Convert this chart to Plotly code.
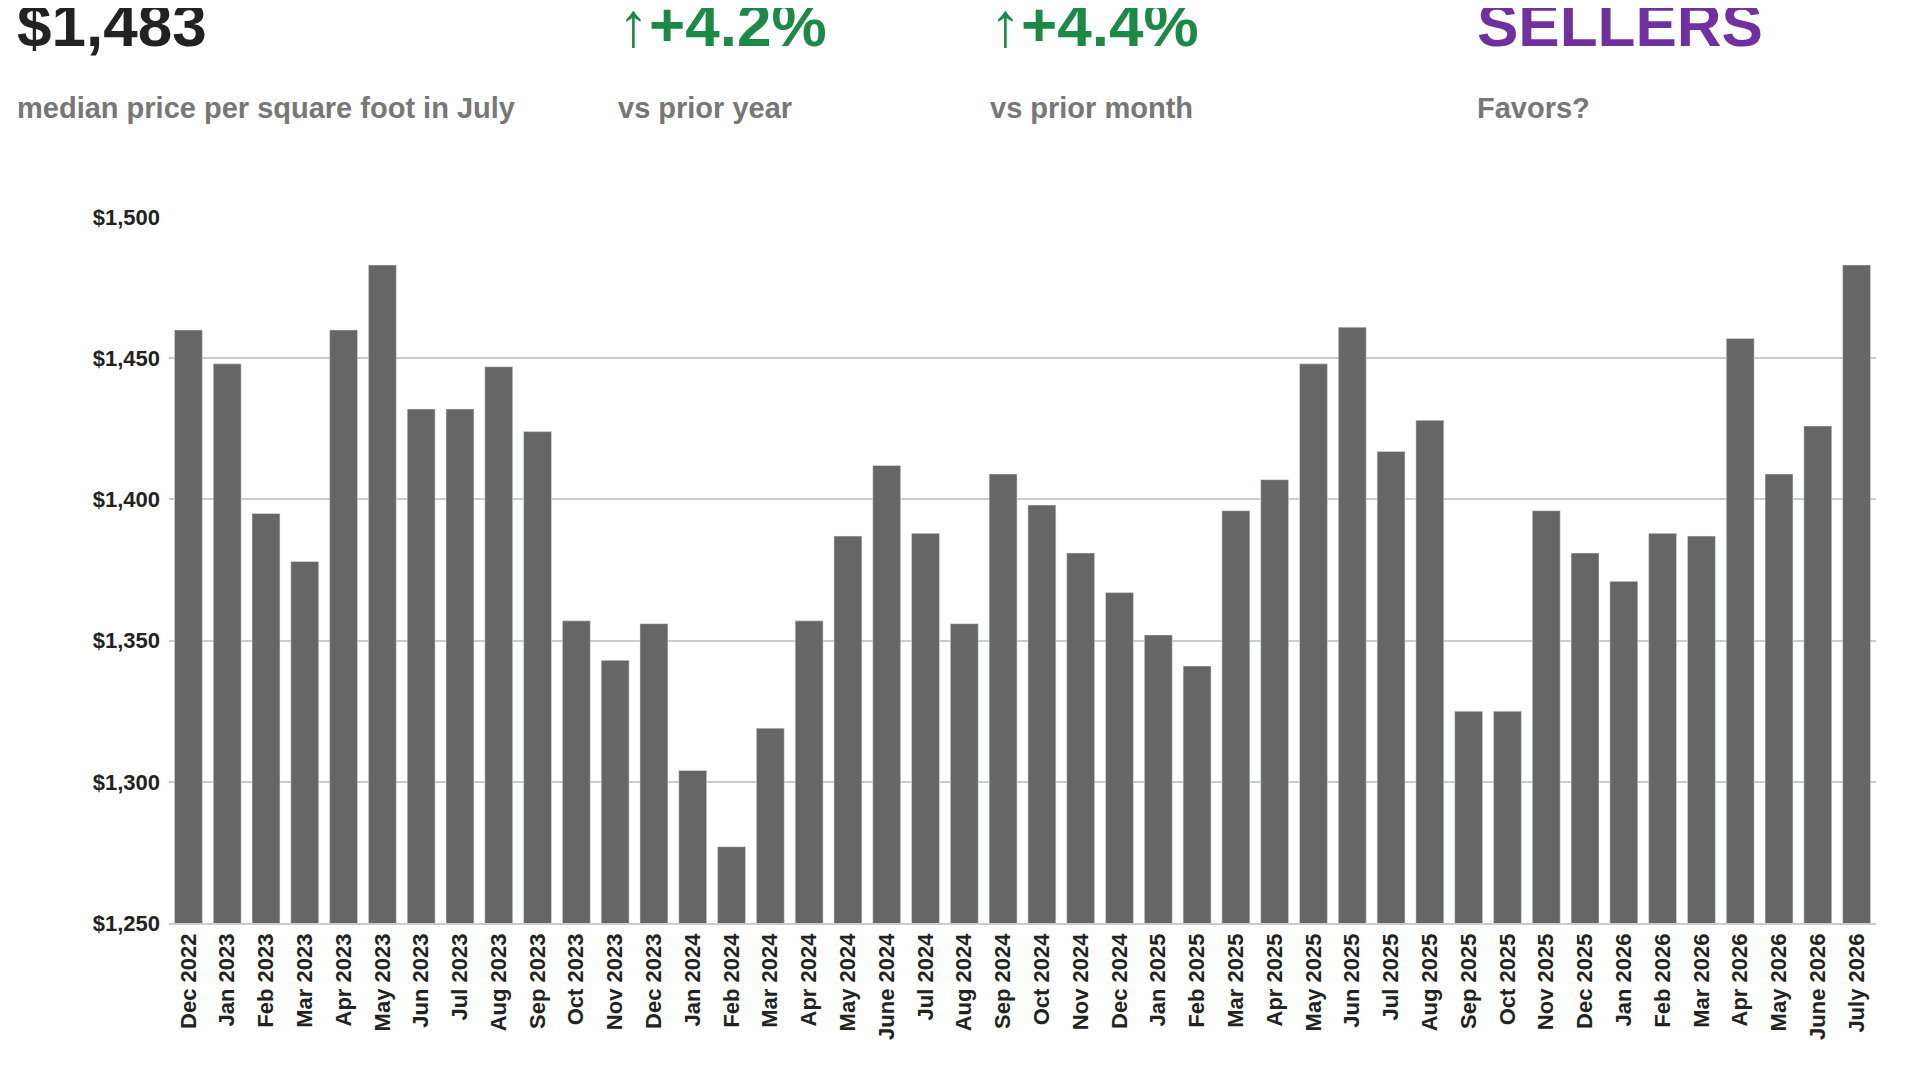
import plotly.graph_objects as go

months = ["Dec 2022", "Jan 2023", "Feb 2023", "Mar 2023", "Apr 2023", "May 2023", "Jun 2023",
          "Jul 2023", "Aug 2023", "Sep 2023", "Oct 2023", "Nov 2023", "Dec 2023", "Jan 2024",
          "Feb 2024", "Mar 2024", "Apr 2024", "May 2024", "June 2024", "Jul 2024", "Aug 2024",
          "Sep 2024", "Oct 2024", "Nov 2024", "Dec 2024", "Jan 2025", "Feb 2025", "Mar 2025",
          "Apr 2025", "May 2025", "Jun 2025", "Jul 2025", "Aug 2025", "Sep 2025", "Oct 2025",
          "Nov 2025", "Dec 2025", "Jan 2026", "Feb 2026", "Mar 2026", "Apr 2026", "May 2026",
          "June 2026", "July 2026"]
price = [1460, 1448, 1395, 1378, 1460, 1483, 1432, 1432, 1447, 1424, 1357, 1343, 1356, 1304,
         1277, 1319, 1357, 1387, 1412, 1388, 1356, 1409, 1398, 1381, 1367, 1352, 1341, 1396,
         1407, 1448, 1461, 1417, 1428, 1325, 1325, 1396, 1381, 1371, 1388, 1387, 1457, 1409,
         1426, 1483]
tick_vals = [1250, 1300, 1350, 1400, 1450, 1500]
tick_text = ["$1,250", "$1,300", "$1,350", "$1,400", "$1,450", "$1,500"]

FONT = "Liberation Sans"
GREEN = "#1a8a45"

fig = go.Figure(go.Bar(x=months, y=price, marker_color="#666666"))

fig.update_layout(
    width=1920, height=1083,
    plot_bgcolor="white", paper_bgcolor="white",
    margin=dict(l=161, r=52, t=209, b=168),
    bargap=0.28,
    showlegend=False,
    font=dict(family=FONT, color="#222222"),
)
fig.update_yaxes(range=[1250, 1500], tickvals=tick_vals, ticktext=tick_text,
                 gridcolor="#cccccc", gridwidth=1.5, zeroline=False,
                 tickfont=dict(size=22, family=FONT, weight="bold", color="#222222"),
                 showline=False, ticks="", ticklabelstandoff=8)
fig.update_xaxes(tickangle=-90, tickfont=dict(size=22, family=FONT, weight="bold", color="#222222"),
                 showline=True, linecolor="#cccccc", linewidth=1.5, ticks="")

headers = [
    (-0.090, "$1,483", "#222222", "median price per square foot in July"),
    (0.262, "↑+4.2%", GREEN, "vs prior year"),
    (0.480, "↑+4.4%", GREEN, "vs prior month"),
    (0.765, "SELLERS", "#7030a0", "Favors?"),
]
for x, big, col, sub in headers:
    fig.add_annotation(x=x, y=1.272, xref="paper", yref="paper", text="<b>" + big + "</b>",
                       showarrow=False, xanchor="left", yanchor="middle",
                       font=dict(size=62, color=col, family=FONT))
    fig.add_annotation(x=x, y=1.155, xref="paper", yref="paper", text="<b>" + sub + "</b>",
                       showarrow=False, xanchor="left", yanchor="middle",
                       font=dict(size=29, color="#777777", family=FONT))

fig.write_html("out.html")
